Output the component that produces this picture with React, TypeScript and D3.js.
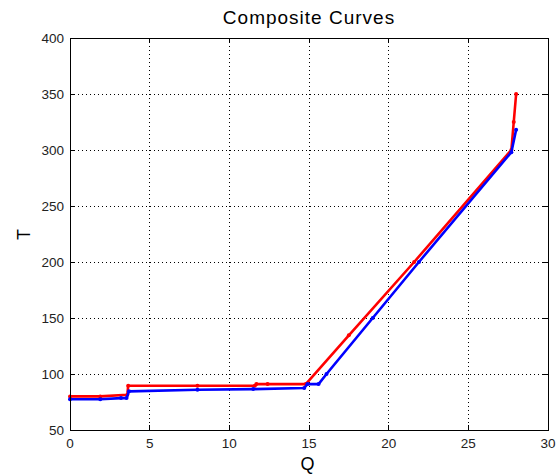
import React from 'react';
import * as d3 from 'd3';

// hot composite curve (red)
const hotQ = [0, 1.9, 3.6, 3.65, 8.0, 11.6, 11.7, 12.4, 14.8, 17.5, 21.6, 27.7, 27.85, 28.0];
const hotT = [80, 80, 81.5, 89.5, 89.5, 89.5, 91, 91, 91, 134.5, 200, 300, 325, 350];

// cold composite curve (blue)
const coldQ = [0, 1.9, 3.2, 3.55, 3.7, 8.0, 11.5, 14.7, 14.9, 15.6, 16.1, 19.0, 21.9, 27.7, 28.0];
const coldT = [77.5, 77.5, 78.5, 78.5, 84.5, 86, 86.5, 87.5, 91, 91, 100, 150, 200, 298, 318];

const xTicks = [0, 5, 10, 15, 20, 25, 30];
const yTicks = [50, 100, 150, 200, 250, 300, 350, 400];

const W = 560;
const H = 476;
const margin = { top: 38, right: 12, bottom: 46, left: 70 };

const App = () => {
  const innerW = W - margin.left - margin.right;
  const innerH = H - margin.top - margin.bottom;

  const x = d3.scaleLinear().domain([0, 30]).range([0, innerW]);
  const y = d3.scaleLinear().domain([50, 400]).range([innerH, 0]);

  const line = d3.line<[number, number]>()
    .x(d => x(d[0]))
    .y(d => y(d[1]));

  const hot: [number, number][] = hotQ.map((q, i) => [q, hotT[i]]);
  const cold: [number, number][] = coldQ.map((q, i) => [q, coldT[i]]);

  const font = 'Arial, "Liberation Sans", Helvetica, sans-serif';

  return (
    <svg width={W} height={H} style={{ display: 'block', position: 'absolute', left: 0, top: 0, background: '#fff' }}>
      <rect x={0} y={0} width={W} height={H} fill="#fff" />
      <text x={margin.left + innerW / 2} y={24} textAnchor="middle" fontFamily={font} fontSize={19} letterSpacing={1} fill="#000">
        Composite Curves
      </text>
      <g transform={`translate(${margin.left},${margin.top})`}>
        {/* grid */}
        {xTicks.slice(1, -1).map(t => (
          <line key={'gx' + t} x1={x(t)} x2={x(t)} y1={0} y2={innerH}
            stroke="#000" strokeWidth={1} strokeDasharray="1,3" shapeRendering="crispEdges" />
        ))}
        {yTicks.slice(1, -1).map(t => (
          <line key={'gy' + t} x1={0} x2={innerW} y1={y(t)} y2={y(t)}
            stroke="#000" strokeWidth={1} strokeDasharray="1,3" shapeRendering="crispEdges" />
        ))}

        {/* curves */}
        <path d={line(hot) || ''} fill="none" stroke="#ff0000" strokeWidth={2.6} strokeLinejoin="round" />
        {hot.map((d, i) => (
          <circle key={'hm' + i} cx={x(d[0])} cy={y(d[1])} r={2} fill="#ff0000" />
        ))}
        <path d={line(cold) || ''} fill="none" stroke="#0000ff" strokeWidth={2.6} strokeLinejoin="round" />
        {cold.map((d, i) => (
          <circle key={'cm' + i} cx={x(d[0])} cy={y(d[1])} r={2} fill="#0000ff" />
        ))}

        {/* box */}
        <rect x={0} y={0} width={innerW} height={innerH} fill="none" stroke="#000" strokeWidth={1} shapeRendering="crispEdges" />

        {/* ticks on all sides, pointing in */}
        {xTicks.map(t => (
          <g key={'tx' + t}>
            <line x1={x(t)} x2={x(t)} y1={innerH} y2={innerH - 5} stroke="#000" shapeRendering="crispEdges" />
            <line x1={x(t)} x2={x(t)} y1={0} y2={5} stroke="#000" shapeRendering="crispEdges" />
            <text x={x(t)} y={innerH + 18} textAnchor="middle" fontFamily={font} fontSize={13.5} fill="#222">{t}</text>
          </g>
        ))}
        {yTicks.map(t => (
          <g key={'ty' + t}>
            <line x1={0} x2={5} y1={y(t)} y2={y(t)} stroke="#000" shapeRendering="crispEdges" />
            <line x1={innerW} x2={innerW - 5} y1={y(t)} y2={y(t)} stroke="#000" shapeRendering="crispEdges" />
            <text x={-6} y={y(t) + 5} textAnchor="end" fontFamily={font} fontSize={13.5} fill="#222">{t}</text>
          </g>
        ))}
      </g>

      <text x={307.5} y={470} textAnchor="middle" fontFamily={font} fontSize={18} fill="#000">Q</text>
      <text transform={`translate(29.5,234.5) rotate(-90)`} textAnchor="middle" fontFamily={font} fontSize={18} fill="#000">T</text>
    </svg>
  );
};

export default App;
